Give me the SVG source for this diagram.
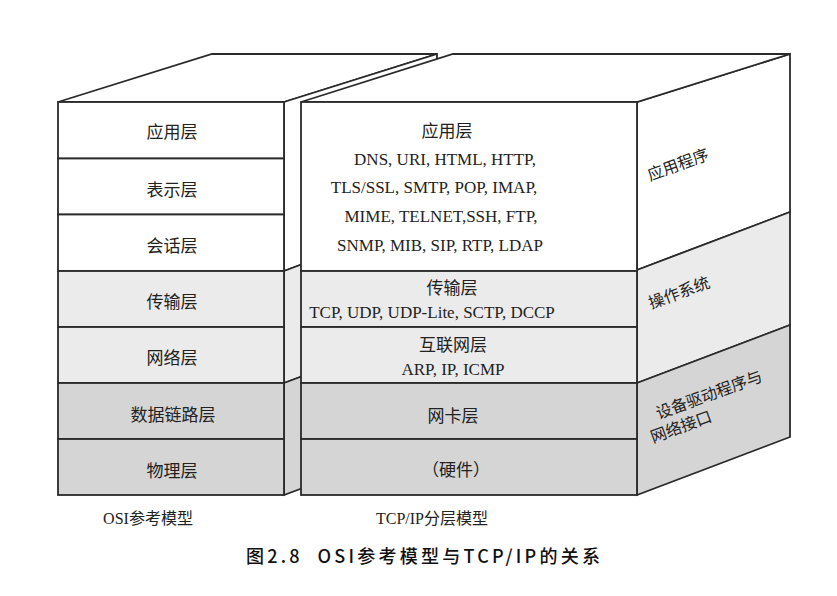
<svg xmlns="http://www.w3.org/2000/svg" width="837" height="596" viewBox="0 0 837 596">
<style>
.ln{stroke:#2a2a2a;stroke-width:1.8;stroke-linejoin:miter}
.w{fill:#ffffff}
.g1{fill:#ebebeb}
.g2{fill:#d5d5d5}
.t{font-family:"Liberation Serif","Noto Sans CJK SC",serif;font-size:17px;fill:#222;text-anchor:middle}
.c{font-family:"Liberation Serif","Noto Sans CJK SC",serif;font-size:16px;fill:#222;text-anchor:middle}
.s{font-family:"Liberation Serif","Noto Sans CJK SC",serif;font-size:16px;fill:#222;text-anchor:middle}
.cap{font-family:"Noto Sans CJK SC","Liberation Sans",sans-serif;font-size:18px;fill:#111;font-weight:500}
</style>
<rect width="837" height="596" fill="#ffffff"/>

<g id="osi-model">
  <polygon class="ln w" points="58,102 212,54 437,54 284,102"/>
  <polygon class="ln w" points="284,102 437,54 437,214 284,271"/>
  <polygon class="ln g1" points="284,271 437,214 437,326 284,383"/>
  <polygon class="ln g2" points="284,383 437,326 437,438 284,495"/>
  <rect class="ln w" x="58" y="102" width="226" height="56.5"/>
  <rect class="ln w" x="58" y="158.5" width="226" height="56"/>
  <rect class="ln w" x="58" y="214.5" width="226" height="56.5"/>
  <rect class="ln g1" x="58" y="271" width="226" height="56"/>
  <rect class="ln g1" x="58" y="327" width="226" height="56"/>
  <rect class="ln g2" x="58" y="383" width="226" height="56"/>
  <rect class="ln g2" x="58" y="439" width="226" height="56"/>
</g>
<g id="osi-labels">
  <text class="t" x="172" y="138">应用层</text>
  <text class="t" x="172" y="196">表示层</text>
  <text class="t" x="172" y="252">会话层</text>
  <text class="t" x="172" y="308">传输层</text>
  <text class="t" x="172" y="364">网络层</text>
  <text class="t" x="173" y="421">数据链路层</text>
  <text class="t" x="172" y="477">物理层</text>
  <text class="c" x="148" y="524">OSI参考模型</text>
</g>

<g id="tcpip-model">
  <polygon class="ln w" points="637,102 790,54 790,212 637,270"/>
  <polygon class="ln g1" points="637,270 790,212 790,325 637,383"/>
  <polygon class="ln g2" points="637,383 790,325 790,437 637,495"/>
  <polygon class="ln w" points="301,102 453,54 790,54 637,102"/>
  <rect class="ln w" x="301" y="102" width="336" height="169"/>
  <rect class="ln g1" x="301" y="271" width="336" height="56"/>
  <rect class="ln g1" x="301" y="327" width="336" height="56"/>
  <rect class="ln g2" x="301" y="383" width="336" height="56"/>
  <rect class="ln g2" x="301" y="439" width="336" height="56"/>
</g>
<g id="tcpip-labels">
  <text class="t" x="447" y="137">应用层</text>
  <text class="t" x="445" y="165">DNS, URI, HTML, HTTP,</text>
  <text class="t" x="434" y="193">TLS/SSL, SMTP, POP, IMAP,</text>
  <text class="t" x="441" y="222">MIME, TELNET,SSH, FTP,</text>
  <text class="t" x="440" y="251">SNMP, MIB, SIP, RTP, LDAP</text>
  <text class="t" x="452" y="294">传输层</text>
  <text class="t" x="432" y="318">TCP, UDP, UDP-Lite, SCTP, DCCP</text>
  <text class="t" x="453" y="351">互联网层</text>
  <text class="t" x="453" y="375">ARP, IP, ICMP</text>
  <text class="t" x="453" y="422">网卡层</text>
  <text class="t" x="456" y="476">（硬件）</text>
  <text class="c" x="432" y="524">TCP/IP分层模型</text>
</g>

<g id="side-labels">
  <text class="s" transform="translate(680,170) rotate(-20)">应用程序</text>
  <text class="s" transform="translate(681,298) rotate(-20)">操作系统</text>
  <text class="s" transform="translate(711,400) rotate(-20)">设备驱动程序与</text>
  <text class="s" transform="translate(683,432) rotate(-20)">网络接口</text>
</g>

<g id="caption">
  <text class="cap" x="246" y="563" textLength="354" lengthAdjust="spacing" xml:space="preserve">图2.8  OSI参考模型与TCP/IP的关系</text>
</g>
</svg>
